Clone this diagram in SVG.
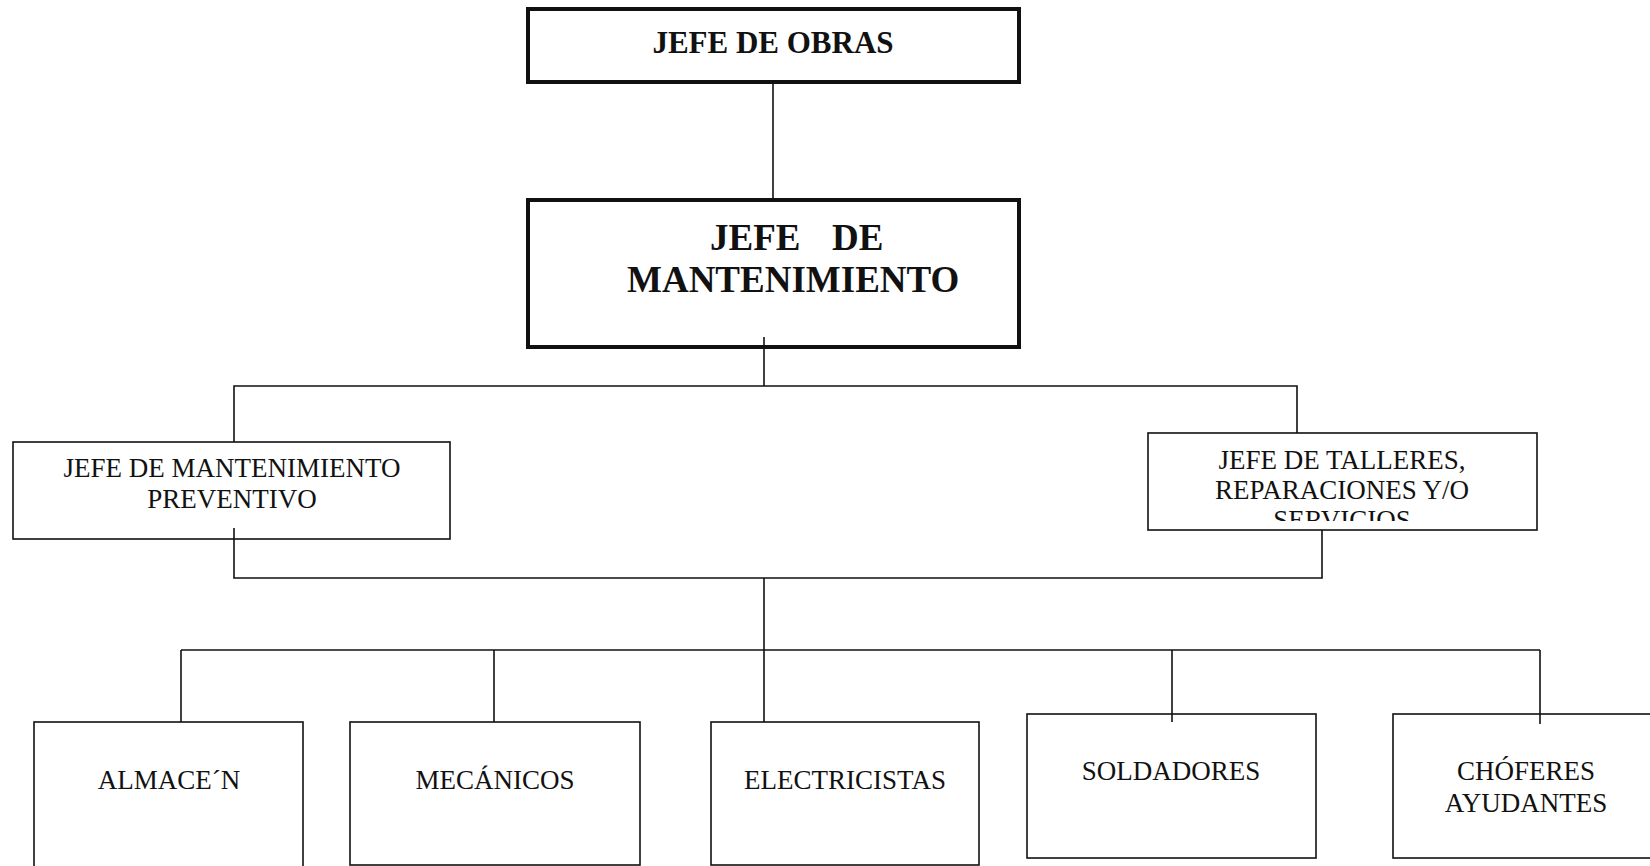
<svg xmlns="http://www.w3.org/2000/svg" width="1650" height="866" viewBox="0 0 1650 866">
<style>
.thick{fill:#fff;stroke:#111;stroke-width:4}
.box{fill:#fff;stroke:#111;stroke-width:1.6}
.con{fill:none;stroke:#111;stroke-width:1.6}
.b{font-family:"Liberation Serif","Times New Roman",serif;font-weight:bold;fill:#111}
.r{font-family:"Liberation Serif","Times New Roman",serif;font-size:27px;fill:#111;text-anchor:middle}
</style>
<defs>
<clipPath id="clipTall"><rect x="1148" y="433" width="389" height="88"/></clipPath>
</defs>
<g id="jefe-obras">
<rect class="thick" x="528" y="9" width="491" height="73"/>
<text class="b" x="773" y="53" font-size="31" text-anchor="middle">JEFE DE OBRAS</text>
</g>
<g id="jefe-mantenimiento">
<rect class="thick" x="528" y="200" width="491" height="147"/>
<text class="b" font-size="37"><tspan x="710" y="250">JEFE</tspan><tspan x="832" y="250">DE</tspan></text>
<text class="b" x="627" y="292" font-size="37">MANTENIMIENTO</text>
</g>
<g id="jefe-preventivo">
<rect class="box" x="13" y="442" width="437" height="97"/>
<text class="r" x="232" y="477">JEFE DE MANTENIMIENTO</text>
<text class="r" x="232" y="508">PREVENTIVO</text>
</g>
<g id="jefe-talleres">
<rect class="box" x="1148" y="433" width="389" height="97"/>
<g clip-path="url(#clipTall)">
<text class="r" x="1342" y="469">JEFE DE TALLERES,</text>
<text class="r" x="1342" y="499">REPARACIONES Y/O</text>
<text class="r" x="1342" y="529">SERVICIOS</text>
</g>
</g>
<g id="almacen">
<rect class="box" x="34" y="722" width="269" height="160"/>
<text class="r" x="169" y="789">ALMACE´N</text>
</g>
<g id="mecanicos">
<rect class="box" x="350" y="722" width="290" height="143"/>
<text class="r" x="495" y="789">MECÁNICOS</text>
</g>
<g id="electricistas">
<rect class="box" x="711" y="722" width="268" height="143"/>
<text class="r" x="845" y="789">ELECTRICISTAS</text>
</g>
<g id="soldadores">
<rect class="box" x="1027" y="714" width="289" height="144"/>
<text class="r" x="1171" y="780">SOLDADORES</text>
</g>
<g id="choferes">
<rect class="box" x="1393" y="714" width="270" height="144"/>
<text class="r" x="1526" y="780">CHÓFERES</text>
<text class="r" x="1526" y="812">AYUDANTES</text>
</g>
<g id="connectors">
<line class="con" x1="773" y1="82" x2="773" y2="200"/>
<line class="con" x1="764" y1="337" x2="764" y2="386"/>
<polyline class="con" points="234,442 234,386 1297,386 1297,433"/>
<polyline class="con" points="234,528 234,578 1322,578 1322,530"/>
<line class="con" x1="764" y1="578" x2="764" y2="722"/>
<line class="con" x1="181" y1="650" x2="1540" y2="650"/>
<line class="con" x1="181" y1="650" x2="181" y2="722"/>
<line class="con" x1="494" y1="650" x2="494" y2="722"/>
<line class="con" x1="1172" y1="650" x2="1172" y2="722"/>
<line class="con" x1="1540" y1="650" x2="1540" y2="724"/>
</g>
</svg>
